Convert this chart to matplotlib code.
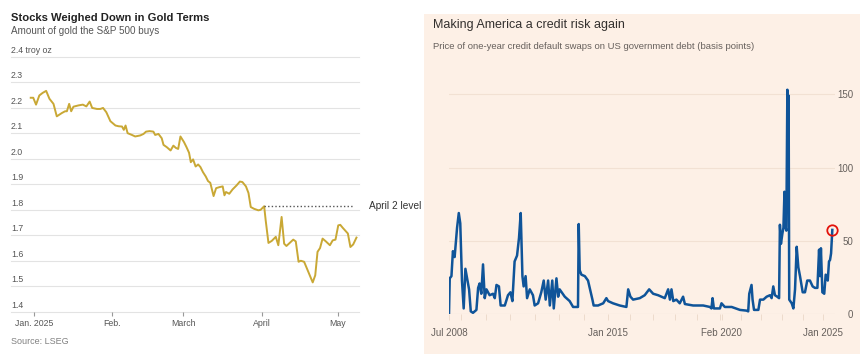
import numpy as np
import matplotlib
matplotlib.use("Agg")
import matplotlib.pyplot as plt
from matplotlib.patches import Rectangle

# ---- left chart: S&P 500 priced in gold (days since 1 Jan 2025) ----
gold_day = [-1.3, -0.3, 0.8, 2.1, 3.4, 4.8, 6.1, 7.7, 9.0, 11.0, 12.3, 13.0, 13.9, 14.7,
            15.6, 17.6, 19.3, 20.7, 22.0, 23.0, 24.9, 26.2, 27.3, 28.6, 30.2, 32.2, 33.5,
            34.8, 35.5, 36.2, 37.0, 38.7, 40.0, 42.0, 43.3, 44.3, 45.7, 47.2, 47.9, 49.2,
            50.5, 51.2, 52.5, 54.0, 55.1, 56.1, 57.0, 57.9, 59.3, 60.3, 61.3, 62.0, 62.9,
            63.9, 64.9, 65.8, 66.8, 67.9, 68.8, 69.7, 71.0, 72.0, 73.3, 74.6, 75.3, 75.9,
            77.2, 78.5, 80.1, 81.4, 82.4, 83.8, 84.8, 85.7, 87.0, 88.7, 89.6, 91.0, 91.6,
            92.7, 94.0, 95.6, 96.6, 97.9, 98.9, 99.8, 101.1, 102.5, 103.5, 104.6, 105.5,
            106.8, 110.2, 111.2, 112.1, 113.1, 114.1, 115.4, 117.0, 118.1, 119.2, 120.3,
            121.1, 122.1, 124.1, 125.1, 126.2, 127.5]
gold_val = [2.240, 2.240, 2.213, 2.249, 2.259, 2.267, 2.236, 2.216, 2.167, 2.180, 2.187,
            2.187, 2.216, 2.187, 2.205, 2.210, 2.213, 2.206, 2.225, 2.200, 2.196, 2.196,
            2.200, 2.183, 2.148, 2.131, 2.128, 2.127, 2.114, 2.131, 2.101, 2.094, 2.088,
            2.092, 2.098, 2.107, 2.109, 2.107, 2.094, 2.098, 2.081, 2.055, 2.046, 2.033,
            2.052, 2.043, 2.039, 2.088, 2.066, 2.046, 2.024, 1.987, 1.998, 1.970, 1.978,
            1.968, 1.948, 1.931, 1.913, 1.906, 1.854, 1.885, 1.889, 1.892, 1.857, 1.870,
            1.863, 1.880, 1.896, 1.911, 1.909, 1.892, 1.866, 1.811, 1.804, 1.798, 1.800,
            1.814, 1.759, 1.670, 1.678, 1.694, 1.661, 1.772, 1.667, 1.658, 1.670, 1.683,
            1.676, 1.596, 1.600, 1.596, 1.515, 1.543, 1.635, 1.650, 1.687, 1.676, 1.661,
            1.680, 1.683, 1.739, 1.741, 1.729, 1.707, 1.654, 1.664, 1.691]
april2_day = 91.0
april2_level = 1.814
gold_yticks = [1.4, 1.5, 1.6, 1.7, 1.8, 1.9, 2.0, 2.1, 2.2, 2.3, 2.4]
gold_xtick_days = [0, 31, 59, 90, 120]
gold_xtick_labels = ["Jan. 2025", "Feb.", "March", "April", "May"]

# ---- right chart: 1y CDS on US government debt (decimal year) ----
cds_year = [2008.50, 2008.53, 2008.60, 2008.66, 2008.73, 2008.83, 2008.90, 2008.96, 2009.03,
            2009.10, 2009.17, 2009.24, 2009.32, 2009.39, 2009.48, 2009.62, 2009.69, 2009.75,
            2009.82, 2009.89, 2009.96, 2010.03, 2010.16, 2010.30, 2010.37, 2010.44, 2010.54,
            2010.61, 2010.78, 2010.91, 2011.01, 2011.09, 2011.18, 2011.28, 2011.36, 2011.43,
            2011.50, 2011.55, 2011.63, 2011.69, 2011.80, 2011.93, 2012.00, 2012.14, 2012.27,
            2012.37, 2012.45, 2012.55, 2012.62, 2012.72, 2012.78, 2012.89, 2012.96, 2013.02,
            2013.23, 2013.43, 2013.57, 2013.71, 2013.77, 2013.80, 2013.84, 2013.91, 2014.05,
            2014.18, 2014.25, 2014.36, 2014.41, 2014.59, 2014.80, 2014.93, 2015.00, 2015.22,
            2015.52, 2015.82, 2015.90, 2016.00, 2016.12, 2016.42, 2016.64, 2016.84, 2017.02,
            2017.24, 2017.39, 2017.54, 2017.69, 2017.77, 2017.84, 2017.92, 2018.06, 2018.21,
            2018.36, 2018.44, 2018.81, 2019.26, 2019.56, 2019.63, 2019.68, 2019.74, 2020.01,
            2020.08, 2020.24, 2020.57, 2020.97, 2021.29, 2021.37, 2021.42, 2021.53, 2021.58,
            2021.65, 2021.86, 2021.94, 2022.10, 2022.26, 2022.42, 2022.50, 2022.58, 2022.66,
            2022.77, 2022.86, 2022.90, 2022.95, 2023.02, 2023.07, 2023.12, 2023.16, 2023.21,
            2023.26, 2023.29, 2023.32, 2023.35, 2023.47, 2023.55, 2023.63, 2023.71, 2023.79,
            2023.87, 2024.00, 2024.11, 2024.22, 2024.35, 2024.48, 2024.59, 2024.71, 2024.79,
            2024.84, 2024.88, 2024.95, 2025.04, 2025.11, 2025.21, 2025.27, 2025.32, 2025.37,
            2025.43]
cds_bp = [0, 24.5, 26, 43, 39, 59, 69, 62, 23, 4, 31, 24.5, 17, 2, 1, 3, 18, 21, 14, 34, 11,
          17, 13, 14, 11, 20, 19, 6, 6, 13, 15, 9, 36, 40, 52, 69, 26, 19, 26, 11, 17, 13, 6,
          7.5, 15, 23, 10, 23, 6, 23, 4, 24.5, 12, 17, 12, 9, 5, 5, 5, 61.5, 30, 27, 26, 23,
          18, 10, 6, 6, 7.5, 11, 9, 7.5, 6, 5, 17, 12, 10, 11, 13, 17, 14, 13, 12, 11, 17, 10,
          17, 9, 10, 7.5, 12, 7, 6, 6, 5, 4, 11, 4, 4, 7.5, 5, 5, 3, 2.5, 2, 14, 20, 10, 3, 3,
          10, 10, 12, 13, 11, 19, 13, 12, 11, 61, 48, 55, 59, 83.5, 60, 57, 153, 102, 149, 10,
          7.5, 4, 17, 46, 32, 26, 15, 15, 23, 23, 19, 18, 18, 44, 26, 45, 15, 14, 27, 23, 36,
          37, 41.5, 57.5]
cds_yticks = [0, 50, 100, 150]
cds_xtick_years = [2008.5, 2015.0, 2020.083, 2025.0]
cds_xtick_labels = ["Jul 2008", "Jan 2015", "Feb 2020", "Jan 2025"]
# the FT axis is not linear in time: position of each labelled date along the axis
axis_pos = [0.0, 159.0, 272.4, 374.2]

W, H = 864, 362
fig = plt.figure(figsize=(W / 100, H / 100), dpi=100)
fig.patch.set_facecolor("white")


def fx(px):
    return px / W


def fy(py):
    return 1 - py / H


sans = ["Liberation Sans Narrow", "Liberation Sans", "DejaVu Sans"]

# ---------------- left chart ----------------
ax1 = fig.add_axes([fx(11), fy(311.7), fx(359 - 11), (311.7 - 57) / H])
ax1.plot(gold_day, gold_val, color="#c9a835", lw=1.4, solid_joinstyle="round")
ax1.plot([april2_day, 126.5], [april2_level, april2_level], color="#555555", lw=1.0,
         ls=(0, (1, 1.6)))
ax1.set_xlim(-9.1, 128.5)
ax1.set_ylim(1.4, 2.4)
for s in ax1.spines.values():
    s.set_visible(False)
for v in gold_yticks:
    ax1.axhline(v, color="#e3e3e3", lw=0.8, zorder=0, clip_on=False)
    lab = "2.4 troy oz" if v == 2.4 else f"{v:.1f}"
    ax1.annotate(lab, xy=(0, v), xycoords=("axes fraction", "data"), xytext=(0, 2),
                 textcoords="offset pixels", ha="left", va="bottom", fontsize=6.3,
                 color="#555555", family=sans)
ax1.set_yticks([])
ax1.set_xticks(gold_xtick_days)
ax1.set_xticklabels(gold_xtick_labels, fontsize=6.3, color="#555555", family=sans)
ax1.tick_params(axis="x", length=3, width=0.8, color="#999999", pad=2.5)
ax1.text(1.03, april2_level, "April 2 level", transform=ax1.get_yaxis_transform(),
         ha="left", va="center", fontsize=7.3, color="#333333", family=sans)

fig.text(fx(11), fy(20.7), "Stocks Weighed Down in Gold Terms", fontsize=8.1,
         fontweight="bold", color="#222222", family=sans, va="baseline")
fig.text(fx(11), fy(33.5), "Amount of gold the S&P 500 buys", fontsize=7.1,
         color="#555555", family=sans, va="baseline")
fig.text(fx(11), fy(341), "Source: LSEG", fontsize=6.5, color="#808080", family=sans,
         va="center")

# ---------------- right chart ----------------
fig.patches.append(Rectangle((fx(424), fy(354)), fx(860 - 424), (354 - 14) / H,
                             transform=fig.transFigure, facecolor="#fdf0e6",
                             edgecolor="none", zorder=-5))

ax2 = fig.add_axes([fx(449), fy(314.3), fx(835 - 449), (314.3 - 86.8) / H])
ax2.set_facecolor("none")
ax2.set_zorder(2)
anchor_yr = [2000.0] + cds_xtick_years + [2030.0]
anchor_px = [axis_pos[0] - 8.5 * 24.46] + axis_pos + [axis_pos[-1] + 5 * 20.68]


def fwd(x):
    return np.interp(x, anchor_yr, anchor_px)


def inv(p):
    return np.interp(p, anchor_px, anchor_yr)


ax2.set_xscale("function", functions=(fwd, inv))
ax2.plot(cds_year, cds_bp, color="#0f5499", lw=1.8, solid_joinstyle="round")
ax2.plot(cds_year[-1], cds_bp[-1], "o", mfc="none", mec="#e3120b", ms=7.5, mew=1.3,
         clip_on=False, zorder=5)
ax2.set_xlim(2008.5, 2025.56)
ax2.set_ylim(0, 155)
for s in ax2.spines.values():
    s.set_visible(False)
for v in cds_yticks:
    ax2.axhline(v, color="#f2e1d3" if v else "#ead7c8", lw=0.8, zorder=0)
ax2.yaxis.tick_right()
ax2.set_yticks(cds_yticks)
ax2.set_yticklabels([str(v) for v in cds_yticks], fontsize=7, color="#66605c",
                    family=sans, ha="right")
ax2.tick_params(axis="y", length=0, pad=13)
ax2.set_xticks(cds_xtick_years)
ax2.set_xticklabels(cds_xtick_labels, fontsize=7, color="#66605c", family=sans)
ax2.set_xticks(list(range(2009, 2026)), minor=True)
ax2.tick_params(axis="x", which="both", length=4, width=0.6, color="#ead7c8", pad=6)

fig.text(fx(433), fy(28), "Making America a credit risk again", fontsize=9,
         color="#33302e", family=sans, va="baseline")
fig.text(fx(433), fy(49), "Price of one-year credit default swaps on US government debt "
         "(basis points)", fontsize=6.8, color="#66605c", family=sans, va="baseline")

fig.savefig("out.png", dpi=100)
